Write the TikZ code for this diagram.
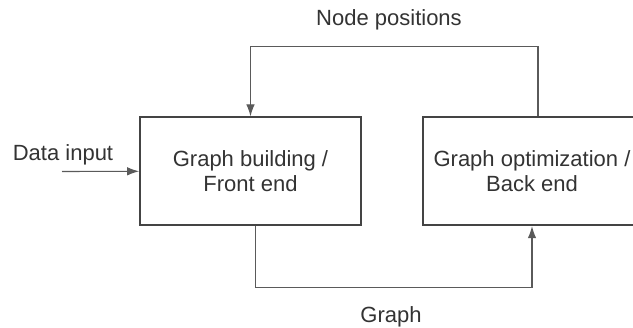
\documentclass[tikz,border=0pt]{standalone}
\usepackage{fontspec}
\setmainfont{Liberation Sans}
\usetikzlibrary{arrows.meta,calc}
\definecolor{boxline}{HTML}{444444}
\definecolor{wire}{HTML}{5A5A5A}
\definecolor{ink}{HTML}{333333}
\begin{document}
\begin{tikzpicture}[x=1pt,y=-1pt,
  every node/.style={text=ink,font=\fontsize{22}{25}\selectfont},
  block/.style={draw=boxline,line width=1.8pt,align=center,inner sep=0pt,
    minimum height=108pt},
  conn/.style={draw=wire,line width=1.1pt,-{Latex[length=12pt,width=8.5pt]}},
  lbl/.style={anchor=base,inner sep=0pt}]
  \useasboundingbox (0,0) rectangle (633,328);
  \clip (0,0) rectangle (633,328);
  \fill[white] (0,0) rectangle (633,328);

  % processing blocks
  \node[block,minimum width=221pt] (fe) at (250.5,171.3) {Graph building /\\Front end};
  \node[block,minimum width=218.6pt] (bo) at (532,171.3) {Graph optimization /\\Back end};

  % helper coordinates
  \coordinate (din) at (62,171.5);
  \coordinate (nt) at (0,46.5);
  \coordinate (nb) at (0,287.3);

  % connectors
  \draw[conn] (din) -- (fe.west);
  \draw[conn] ([xshift=6pt]bo.north) |- (fe.north |- nt) -- (fe.north);
  \draw[conn] ([xshift=5pt]fe.south) |- (bo.south |- nb) -- (bo.south);

  % labels
  \node[lbl] (ldata) at (63,161) {Data input};
  \node[lbl] (lpos) at (389,26) {Node positions};
  \node[lbl] (lgraph) at (391,322.7) {Graph};
\end{tikzpicture}
\end{document}
